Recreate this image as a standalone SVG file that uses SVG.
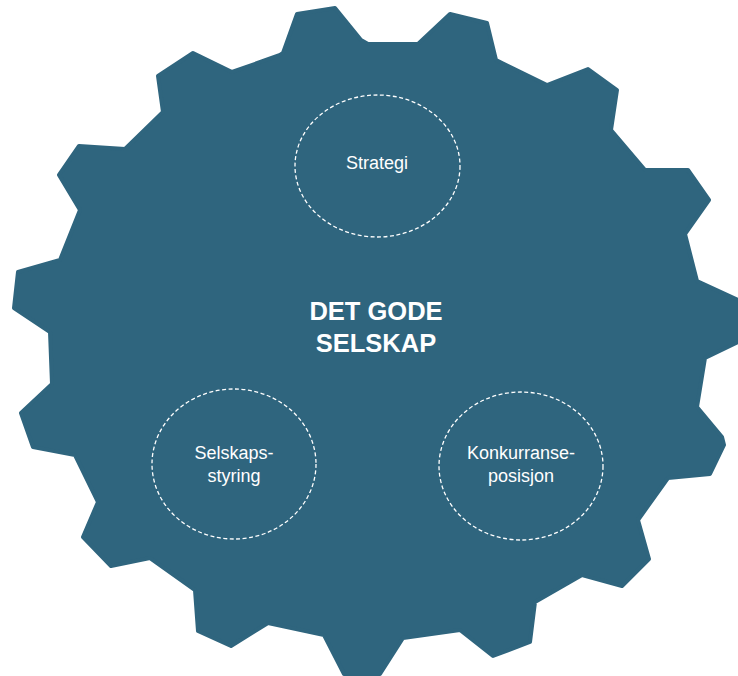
<svg xmlns="http://www.w3.org/2000/svg" width="738" height="676" viewBox="0 0 738 676">
<style>
.gear{fill:#2F657E;stroke:#2F657E;stroke-width:4;stroke-linejoin:round}
.ring{fill:none;stroke:#FFFFFF;stroke-width:1.3;stroke-dasharray:4 2.5}
.lbl{font-family:"Liberation Sans",Arial,sans-serif;font-size:18px;fill:#FFFFFF;text-anchor:middle}
.title{font-family:"Liberation Sans",Arial,sans-serif;font-size:25.5px;font-weight:bold;fill:#FFFFFF;text-anchor:middle}
</style>
<rect width="738" height="676" fill="#FFFFFF"/>
<g id="gear">
<polygon class="gear" points="283,53 297,14 335,8 361,40 368,44 418,44 450,14 487,23 496,60 547,85 588,69 617,90 611,130 645,170 688,170 709,200 685,234 697,281 738,300 738,342 705,358 697,407 722,437 724,445 710,474 668,478 638,520 649,559 622,586 582,575 535,602 530,642 493,656 460,630 403,638 380,674 344,674 324,635 268,623 231,646 198,631 195,590 150,558 111,566 83,537 98,502 75,455 33,447 21,413 52,384 50,332 14,308 18,272 60,260 80,210 59,175 79,146 125,149 163,112 158,76 193,53 232,72 280,55"/>
</g>
<g id="title">
<text class="title" x="376" y="320">DET GODE</text>
<text class="title" x="376" y="352">SELSKAP</text>
</g>
<g id="strategi">
<ellipse class="ring" cx="377.5" cy="166" rx="82.5" ry="71"/>
<text class="lbl" x="377" y="169">Strategi</text>
</g>
<g id="selskapsstyring">
<ellipse class="ring" cx="234" cy="464" rx="82" ry="75"/>
<text class="lbl" x="234" y="459">Selskaps-</text>
<text class="lbl" x="234" y="482">styring</text>
</g>
<g id="konkurranseposisjon">
<ellipse class="ring" cx="521" cy="466" rx="82" ry="74"/>
<text class="lbl" x="521" y="459">Konkurranse-</text>
<text class="lbl" x="521" y="482">posisjon</text>
</g>
<g id="connectors"></g>
</svg>
